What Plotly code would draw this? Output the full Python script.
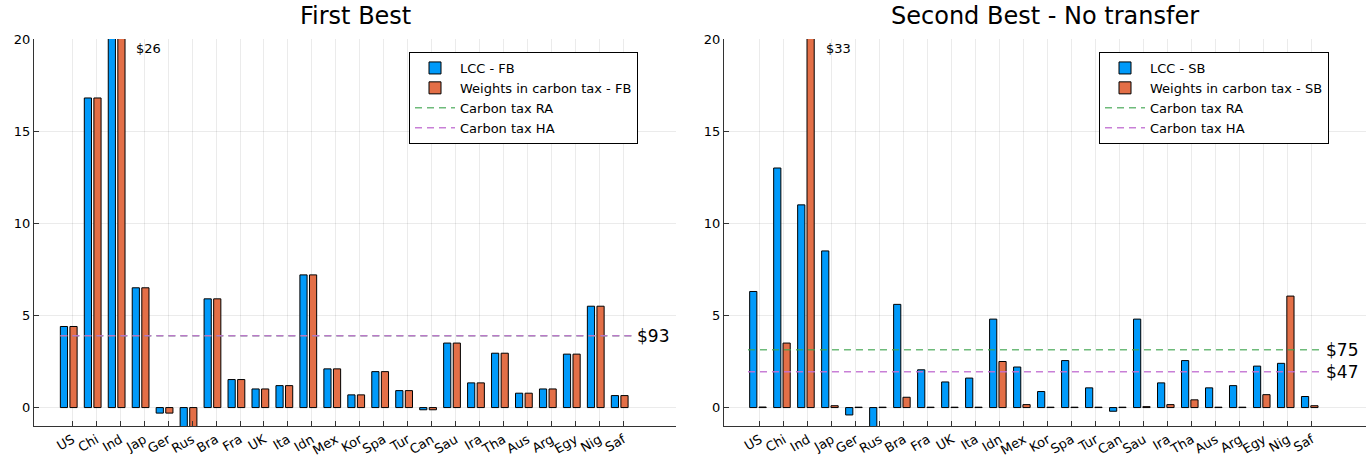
import plotly.graph_objects as go

countries = ["US", "Chi", "Ind", "Jap", "Ger", "Rus", "Bra", "Fra", "UK", "Ita", "Idn", "Mex",
             "Kor", "Spa", "Tur", "Can", "Sau", "Ira", "Tha", "Aus", "Arg", "Egy", "Nig", "Saf"]

# First Best
lcc_fb = [4.4, 16.8, 26.0, 6.5, -0.3, -1.5, 5.9, 1.52, 1.01, 1.19, 7.2, 2.1,
          0.69, 1.95, 0.92, -0.12, 3.5, 1.34, 2.95, 0.78, 1.01, 2.9, 5.5, 0.65]
weights_fb = [4.4, 16.8, 26.0, 6.5, -0.3, -1.5, 5.9, 1.52, 1.01, 1.19, 7.2, 2.1,
              0.69, 1.95, 0.92, -0.12, 3.5, 1.34, 2.95, 0.78, 1.01, 2.9, 5.5, 0.65]
tax_ra_fb = 3.9
tax_ha_fb = 3.9

# Second Best - No transfer
lcc_sb = [6.3, 13.0, 11.0, 8.5, -0.4, -1.5, 5.6, 2.05, 1.39, 1.6, 4.8, 2.2,
          0.87, 2.55, 1.07, -0.2, 4.8, 1.34, 2.55, 1.07, 1.19, 2.25, 2.4, 0.6]
weights_sb = [0.03, 3.5, 33.0, 0.1, 0.02, 0.02, 0.56, 0.02, 0.02, 0.02, 2.5, 0.16,
              0.02, 0.02, 0.02, 0.02, 0.05, 0.16, 0.42, 0.02, 0.02, 0.7, 6.05, 0.1]
tax_ra_sb = 3.14
tax_ha_sb = 1.95

labels_fb = {"top": "$26", "line": "$93"}
labels_sb = {"top": "$33", "ra": "$75", "ha": "$47"}

BLUE = "#009AFA"
ORANGE = "#E36F47"
GREEN = "rgba(62,164,78,0.75)"
PURPLE = "rgba(194,113,210,0.9)"
FONT = "DejaVu Sans"

idx = list(range(1, len(countries) + 1))

fig = go.Figure()

def add_panel(xa, ya, leg, lcc, wts, ra, ha, suffix, off_b, off_o):
    fig.add_trace(go.Bar(x=[i + off_b for i in idx], y=lcc, width=0.3, name="LCC - " + suffix,
                         marker=dict(color=BLUE, line=dict(color="black", width=1)),
                         xaxis=xa, yaxis=ya, legend=leg))
    fig.add_trace(go.Bar(x=[i + off_o for i in idx], y=wts, width=0.3,
                         name="Weights in carbon tax - " + suffix,
                         marker=dict(color=ORANGE, line=dict(color="black", width=1)),
                         xaxis=xa, yaxis=ya, legend=leg))
    fig.add_trace(go.Scatter(x=[0.5, 24.45], y=[ra, ra], mode="lines", name="Carbon tax RA",
                             line=dict(color=GREEN, width=1.5, dash="7px,5px"),
                             xaxis=xa, yaxis=ya, legend=leg))
    fig.add_trace(go.Scatter(x=[0.5, 24.45], y=[ha, ha], mode="lines", name="Carbon tax HA",
                             line=dict(color=PURPLE, width=1.5, dash="7px,5px"),
                             xaxis=xa, yaxis=ya, legend=leg))

add_panel("x", "y", "legend", lcc_fb, weights_fb, tax_ra_fb, tax_ha_fb, "FB", -0.35, 0.05)
add_panel("x2", "y2", "legend2", lcc_sb, weights_sb, tax_ra_sb, tax_ha_sb, "SB", -0.28, 0.11)

W, H = 1370, 462
def px_x(p):
    return p / W
def px_y(p):
    return 1 - p / H

axis_common = dict(ticks="inside", ticklen=5, tickcolor="#333", showgrid=True,
                   gridcolor="rgba(0,0,0,0.08)", gridwidth=1, showline=True,
                   linecolor="#333", linewidth=1.2, zeroline=False, automargin=False,
                   tickfont=dict(family=FONT, size=13, color="black"))

xcommon = dict(axis_common, tickvals=idx, ticktext=countries, tickangle=-30)
ycommon = dict(axis_common, tickvals=[0, 5, 10, 15, 20], range=[-1, 20],
               domain=[px_y(426), px_y(39)])

legend_common = dict(xanchor="left", yanchor="top", bordercolor="black", borderwidth=1,
                     bgcolor="white", font=dict(family=FONT, size=13), tracegroupgap=0,
                     itemwidth=40)

fig.update_layout(
    width=W, height=H, margin=dict(l=0, r=0, t=0, b=0, autoexpand=False),
    paper_bgcolor="white", plot_bgcolor="white", barmode="overlay",
    font=dict(family=FONT, color="black"),
    xaxis=dict(xcommon, domain=[px_x(34), px_x(676)], range=[-0.6, 26.2], anchor="y"),
    yaxis=dict(ycommon, anchor="x"),
    xaxis2=dict(xcommon, domain=[px_x(724), px_x(1366)], range=[-0.5, 26.26], anchor="y2"),
    yaxis2=dict(ycommon, anchor="x2"),
    legend=dict(legend_common, x=px_x(409), y=px_y(52)),
    legend2=dict(legend_common, x=px_x(1099), y=px_y(52)),
    showlegend=True,
)

ann = []
ann.append(dict(text="First Best", x=px_x(355), y=px_y(16), xref="paper", yref="paper",
                xanchor="center", yanchor="middle",
                showarrow=False, font=dict(size=24, family=FONT)))
ann.append(dict(text="Second Best - No transfer", x=px_x(1045), y=px_y(16), xref="paper",
                yref="paper", xanchor="center", yanchor="middle",
                showarrow=False, font=dict(size=24, family=FONT)))
ann.append(dict(text=labels_fb["top"], x=3.58, y=19.5, xref="x", yref="y", xanchor="left",
                yanchor="middle", showarrow=False, font=dict(size=13, family=FONT)))
ann.append(dict(text=labels_fb["line"], x=24.5, y=tax_ha_fb, xref="x", yref="y",
                xanchor="left", yanchor="middle", showarrow=False, font=dict(size=17, family=FONT)))
ann.append(dict(text=labels_sb["top"], x=3.68, y=19.5, xref="x2", yref="y2", xanchor="left",
                yanchor="middle", showarrow=False, font=dict(size=13, family=FONT)))
ann.append(dict(text=labels_sb["ra"], x=24.52, y=tax_ra_sb, xref="x2", yref="y2",
                xanchor="left", yanchor="middle", showarrow=False, font=dict(size=17, family=FONT)))
ann.append(dict(text=labels_sb["ha"], x=24.52, y=tax_ha_sb, xref="x2", yref="y2",
                xanchor="left", yanchor="middle", showarrow=False, font=dict(size=17, family=FONT)))
fig.update_layout(annotations=ann)

fig.write_html("out.html")
